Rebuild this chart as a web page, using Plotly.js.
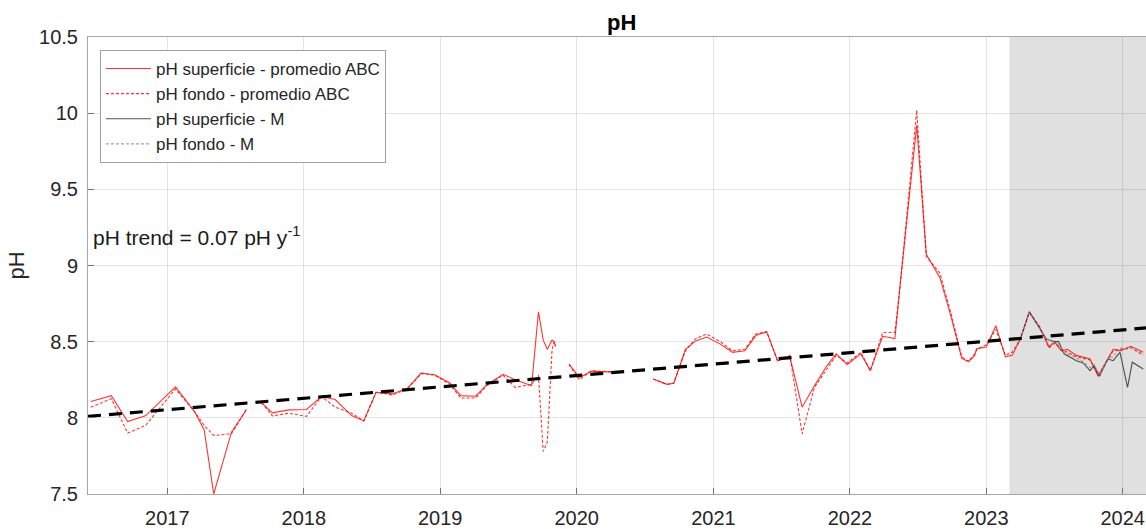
<!DOCTYPE html>
<html>
<head>
<meta charset="utf-8">
<script src="https://cdn.plot.ly/plotly-3.0.1.min.js"></script>
<style>html,body{margin:0;padding:0;background:#fff;}#chart{width:1146px;height:529px;}</style>
</head>
<body>
<div id="chart"></div>
<script>
// Decimal-year positions and pH values
const abcYears = [2016.44,2016.59,2016.71,2016.84,2017.06,2017.20,2017.27,2017.34,2017.47,2017.58,2017.63,
  2017.69,2017.77,2017.89,2018.02,2018.13,2018.23,2018.35,2018.44,2018.53,2018.65,2018.76,2018.86,2018.96,
  2019.07,2019.15,2019.26,2019.34,2019.46,2019.55,2019.67,2019.72,2019.755,2019.785,2019.82,2019.835,2019.845,2019.90,
  2019.944,2020.02,2020.11,2020.29,2020.40,
  2020.56,2020.66,2020.71,2020.795,2020.87,2020.95,2021.05,2021.14,2021.23,2021.31,2021.39,2021.47,2021.56,
  2021.65,2021.74,2021.83,2021.90,2021.98,2022.08,2022.15,2022.24,2022.33,2022.37,2022.49,2022.56,2022.66,
  2022.74,2022.82,2022.87,2022.915,2022.93,2023.00,2023.07,2023.14,2023.19,2023.25,2023.315,2023.39,2023.46,
  2023.50,2023.55,2023.595,2023.66,2023.76,2023.82,2023.93,2023.98,2024.06,2024.15];
const phSupABC = [8.107,8.145,7.975,8.013,8.203,8.04,7.92,7.50,7.906,8.055,null,
  8.10,8.033,8.052,8.055,8.14,8.12,8.015,7.98,8.168,8.157,8.194,8.294,8.283,
  8.229,8.146,8.142,8.216,8.286,8.25,8.21,8.695,8.51,8.45,8.51,8.50,8.47,null,
  8.353,8.266,8.305,8.30,null,
  8.255,8.22,8.227,8.45,8.505,8.53,8.484,8.43,8.44,8.54,8.566,8.375,8.40,
  8.07,8.21,8.34,8.42,8.35,8.42,8.31,8.535,8.52,8.888,9.92,9.073,8.92,
  8.67,8.39,8.37,8.41,8.454,8.465,8.605,8.40,8.41,8.517,8.696,8.594,8.465,
  8.50,8.44,8.45,8.41,8.386,8.273,8.45,8.44,8.47,8.43];
const phFonABC = [8.07,8.125,7.90,7.95,8.19,8.04,7.95,7.884,7.895,8.055,null,
  8.10,8.013,8.03,8.01,8.14,8.07,8.03,7.98,8.168,8.15,8.19,8.29,8.28,
  8.22,8.13,8.13,8.21,8.28,8.20,8.22,8.28,7.78,7.84,8.45,8.498,8.47,null,
  8.35,8.25,8.31,8.30,null,
  8.255,8.22,8.227,8.44,8.52,8.55,8.50,8.44,8.45,8.55,8.566,8.375,8.41,
  7.895,8.20,8.32,8.41,8.36,8.43,8.31,8.56,8.56,8.88,10.02,9.06,8.95,
  8.69,8.40,8.37,8.42,8.45,8.48,8.58,8.41,8.43,8.52,8.69,8.60,8.46,
  8.49,8.45,8.43,8.40,8.38,8.28,8.44,8.45,8.46,8.41];

const mYears = [2023.25,2023.315,2023.44,2023.50,2023.53,2023.57,2023.66,2023.71,2023.76,2023.79,2023.83,
  2023.89,2023.93,2023.98,2024.035,2024.07,2024.15];
const phSupM = [8.52,8.696,8.517,8.50,8.50,8.42,8.375,8.36,8.31,8.343,8.273,8.386,8.375,8.43,8.20,8.365,8.32];
const phFonM = [8.52,8.69,8.52,8.49,8.48,8.43,8.39,8.37,8.33,8.35,8.28,8.39,8.40,8.46,8.45,8.46,8.42];

const trendYears = [2016.42, 2024.17];
const trendVals = [8.01, 8.59];

const shadeStart = 2023.17;
const xRange = [2016.42, 2024.17];
const yTicks = [7.5, 8, 8.5, 9, 9.5, 10, 10.5];
const yearTicks = [2017, 2018, 2019, 2020, 2021, 2022, 2023, 2024];

function dy(y) {
  const yr = Math.floor(y);
  const s = Date.UTC(yr, 0, 1), e = Date.UTC(yr + 1, 0, 1);
  return new Date(s + (y - yr) * (e - s)).toISOString().slice(0, 19).replace('T', ' ');
}
const toDates = a => a.map(dy);

const font = 'Liberation Sans, Arial, Helvetica, sans-serif';
const txt = '#262626';

const traces = [
  {x: toDates(abcYears), y: phSupABC, mode: 'lines', name: 'pH superficie - promedio ABC',
   line: {color: 'rgba(255,0,0,0.8)', width: 1.1}},
  {x: toDates(abcYears), y: phFonABC, mode: 'lines', name: 'pH fondo - promedio ABC',
   line: {color: 'rgba(255,0,0,0.8)', width: 1.1, dash: '3px,2px'}},
  {x: toDates(mYears), y: phSupM, mode: 'lines', name: 'pH superficie - M',
   line: {color: 'rgba(40,40,40,0.8)', width: 1.1}},
  {x: toDates(mYears), y: phFonM, mode: 'lines', name: 'pH fondo - M',
   line: {color: 'rgba(150,150,150,0.9)', width: 1.1, dash: '3px,2px'}},
  {x: toDates(trendYears), y: trendVals, mode: 'lines', showlegend: false, hoverinfo: 'skip',
   line: {color: '#000', width: 3.2, dash: '13px,8px'}}
];

const layout = {
  width: 1146, height: 529,
  margin: {l: 88, r: 0, t: 37, b: 35, pad: 0},
  paper_bgcolor: '#fff', plot_bgcolor: '#fff',
  font: {family: font, color: txt, size: 20},
  title: {text: '<b>pH</b>', x: 0.5425, xanchor: 'center', y: 0.957, yanchor: 'middle',
          font: {family: font, size: 22, color: '#000'}},
  xaxis: {
    type: 'date', range: toDates(xRange),
    tickvals: yearTicks.map(y => dy(y)), ticktext: yearTicks.map(String),
    showgrid: true, gridcolor: 'rgba(0,0,0,0.1)', gridwidth: 1,
    showline: true, linecolor: '#a6a6a6', linewidth: 1, mirror: true,
    ticks: 'inside', ticklen: 6, tickcolor: '#737373',
    ticklabelstandoff: 6,
    tickfont: {family: font, size: 20, color: txt}, zeroline: false
  },
  yaxis: {
    range: [7.5, 10.5], tickvals: yTicks,
    showgrid: true, gridcolor: 'rgba(0,0,0,0.1)', gridwidth: 1,
    showline: true, linecolor: '#a6a6a6', linewidth: 1, mirror: true,
    ticks: 'inside', ticklen: 6, tickcolor: '#737373',
    ticklabelstandoff: 5,
    tickfont: {family: font, size: 20, color: txt}, zeroline: false,
    title: {text: 'pH', font: {family: font, size: 22, color: txt}, standoff: 8}
  },
  shapes: [{type: 'rect', xref: 'x', yref: 'paper', x0: dy(shadeStart), x1: dy(xRange[1] + 0.2),
            y0: 0, y1: 1, fillcolor: '#e0e0e0', line: {width: 0}, layer: 'below'}],
  legend: {x: 0.0113, y: 0.9716, xanchor: 'left', yanchor: 'top',
           bgcolor: '#fff', bordercolor: '#a0a0a0', borderwidth: 1, itemwidth: 45,
           font: {family: font, size: 17, color: txt}, tracegroupgap: 0},
  annotations: [{xref: 'paper', yref: 'paper', x: 0.003, y: 0.5646, xanchor: 'left', yanchor: 'middle',
                 text: 'pH trend = 0.07 pH y<sup>-1</sup>', showarrow: false,
                 font: {family: font, size: 21, color: '#1a1a1a'}}]
};

Plotly.newPlot('chart', traces, layout, {displayModeBar: false, staticPlot: true});
</script>
</body>
</html>
